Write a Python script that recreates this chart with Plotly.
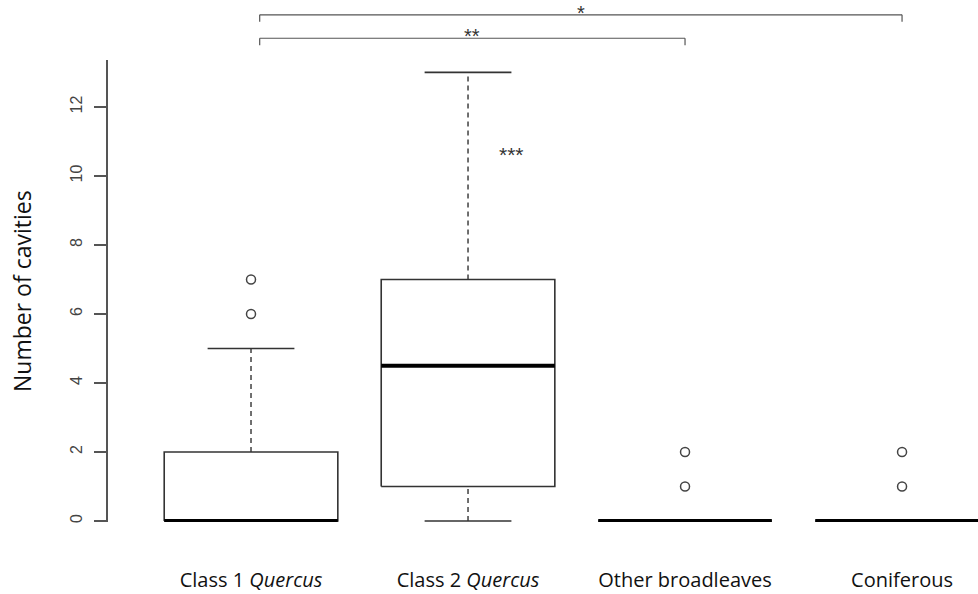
import plotly.graph_objects as go

# Groups and summary statistics (Tukey boxplot)
groups = ["Class 1 <i>Quercus</i>", "Class 2 <i>Quercus</i>", "Other broadleaves", "Coniferous"]
q1 = [0, 1, 0, 0]
median = [0, 4.5, 0, 0]
q3 = [2, 7, 0, 0]
whisker_low = [0, 0, 0, 0]
whisker_high = [5, 13, 0, 0]
outliers = [[6, 7], [], [1, 2], [1, 2]]

# Significance annotations
brackets = [  # (left x, right x, level, label)
    (1.04, 4.0, 14.67, "*"),
    (1.04, 3.0, 13.99, "**"),
]
group_star = (2.2, 10.75, "***")

pos = [1, 2, 3, 4]
half_box = 0.4
half_staple = 0.2
ymin, ymax = -0.03, 13.36
xmin, xmax = 0.341, 4.35

box_col = "#333333"
fig = go.Figure()

for i, x in enumerate(pos):
    # box outline
    fig.add_trace(go.Scatter(
        x=[x - half_box, x + half_box, x + half_box, x - half_box, x - half_box],
        y=[q1[i], q1[i], q3[i], q3[i], q1[i]],
        mode="lines", line=dict(color=box_col, width=1.6),
        fill="toself", fillcolor="white", hoverinfo="skip", showlegend=False))
    # whiskers (dashed) and staples
    if whisker_high[i] > q3[i]:
        fig.add_trace(go.Scatter(x=[x, x], y=[q3[i], whisker_high[i]], mode="lines",
                                 line=dict(color=box_col, width=1.4, dash="5px,4px"),
                                 hoverinfo="skip", showlegend=False))
        fig.add_trace(go.Scatter(x=[x - half_staple, x + half_staple],
                                 y=[whisker_high[i], whisker_high[i]], mode="lines",
                                 line=dict(color=box_col, width=1.6),
                                 hoverinfo="skip", showlegend=False))
    if whisker_low[i] < q1[i]:
        fig.add_trace(go.Scatter(x=[x, x], y=[whisker_low[i], q1[i]], mode="lines",
                                 line=dict(color=box_col, width=1.4, dash="5px,4px"),
                                 hoverinfo="skip", showlegend=False))
        fig.add_trace(go.Scatter(x=[x - half_staple, x + half_staple],
                                 y=[whisker_low[i], whisker_low[i]], mode="lines",
                                 line=dict(color=box_col, width=1.6),
                                 hoverinfo="skip", showlegend=False))
    # median
    fig.add_trace(go.Scatter(x=[x - half_box, x + half_box], y=[median[i], median[i]],
                             mode="lines", line=dict(color="black", width=4),
                             hoverinfo="skip", showlegend=False, cliponaxis=False))
    # outliers
    if outliers[i]:
        fig.add_trace(go.Scatter(x=[x] * len(outliers[i]), y=outliers[i], mode="markers",
                                 marker=dict(symbol="circle-open", size=9, color="#444444",
                                             line=dict(color="#444444", width=1.5)),
                                 hoverinfo="skip", showlegend=False))


def to_paper(v):
    return (v - ymin) / (ymax - ymin)


shapes = []
annotations = []
for (xl, xr, lvl, lab) in brackets:
    yp = to_paper(lvl)
    drop = 7 / 462
    for xa, ya, xb, yb in [(xl, yp, xr, yp), (xl, yp, xl, yp - drop), (xr, yp, xr, yp - drop)]:
        shapes.append(dict(type="line", xref="x", yref="paper", x0=xa, y0=ya, x1=xb, y1=yb,
                           line=dict(color="#555555", width=1.2)))
    # label box top sits 15 px above the bracket line
    annotations.append(dict(x=(xl + xr) / 2, y=yp, xref="x", yref="paper", text=lab,
                            showarrow=False, yanchor="top", yshift=15,
                            font=dict(family="Liberation Sans", size=20, color="#333333")))

annotations.append(dict(x=group_star[0], y=group_star[1], xref="x", yref="y", text=group_star[2],
                        showarrow=False, yshift=-4,
                        font=dict(family="Liberation Sans", size=21, color="#333333")))

annotations.append(dict(x=0, y=0.5, xref="paper", yref="paper", xshift=-86, text="Number of cavities",
                        textangle=-90, showarrow=False, xanchor="center", yanchor="middle",
                        font=dict(family="Open Sans", size=23, color="#111111")))

fig.update_layout(
    width=978, height=594,
    margin=dict(l=108, r=0, t=60, b=72),
    paper_bgcolor="white", plot_bgcolor="white",
    shapes=shapes, annotations=annotations,
    xaxis=dict(range=[xmin, xmax], tickvals=pos, ticktext=groups, showline=False,
               showgrid=False, zeroline=False, ticks="", ticklabelstandoff=44,
               tickfont=dict(family="Open Sans", size=20, color="#111111")),
    yaxis=dict(range=[ymin, ymax], tickvals=[0, 2, 4, 6, 8, 10, 12], showline=True,
               linecolor="#555555", linewidth=1.5, ticks="outside", ticklen=12,
               tickcolor="#555555", tickwidth=1.5, showgrid=False, zeroline=False,
               tickangle=-90, ticklabelstandoff=6,
               tickfont=dict(family="Liberation Sans", size=16, color="#444444")),
)

fig.write_html("out.html")
